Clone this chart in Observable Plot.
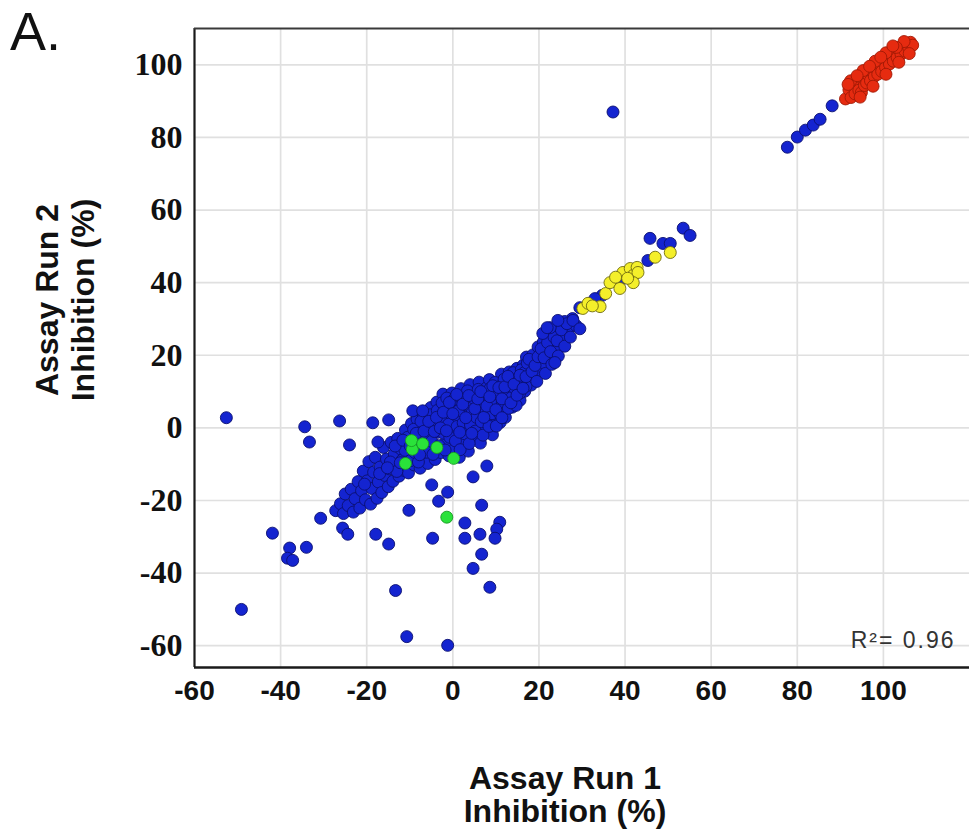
<!DOCTYPE html>
<html>
<head>
<meta charset="utf-8">
<script src="https://cdn.jsdelivr.net/npm/d3@7"></script>
<script src="https://cdn.jsdelivr.net/npm/@observablehq/plot@0.6"></script>
<style>
  html, body { margin: 0; padding: 0; background: #fff; }
  #chart { position: relative; width: 969px; height: 836px; }
</style>
</head>
<body>
<div id="chart"></div>
<script>
// ---- data ----
const xTicks = [-60, -40, -20, 0, 20, 40, 60, 80, 100];
const yTicks = [-60, -40, -20, 0, 20, 40, 60, 80, 100];
const xDomain = [-60, 120];
const yDomain = [-66, 110];

// blue: isolated points
const blueOutliers = [
  [-52.6,2.8],[-34.4,0.3],[-33.3,-3.9],[-26.3,1.9],[-24,-4.7],[-18.6,1.4],[-14.9,2.2],[-17.4,-3.9],
  [-41.9,-29],[-37.9,-33.1],[-38.4,-35.9],[-37.2,-36.5],[-34,-32.9],[-30.7,-24.9],[-25.6,-27.6],
  [-24.4,-29.3],[-17.9,-29.3],[-14.9,-32],[-13.3,-44.8],[-49.1,-50],[-10.7,-57.5],[-10.2,-22.7],
  [7.9,-10.5],[4.7,-13.5],[-4.9,-15.7],[-1.2,-17.7],[-3.3,-20.2],[6.7,-21.3],[2.8,-26.2],[10.9,-26],
  [10.2,-27.9],[6.3,-29.3],[2.8,-30.4],[9.8,-30.4],[-4.7,-30.4],[6.7,-34.8],[4.7,-38.7],[8.6,-43.9],
  [-1.2,-59.9],[37.2,87],[77.7,77.3],[80,80.1],[81.9,82],[83.7,83.4],[85.3,85],[88.1,88.7],
  [45.8,52.2],[48.8,50.8],[50.5,50.8],[53.5,55],[55.1,53],[45.3,46.1],[39.5,41.2],[34.7,36.5],
  [33,35.6],[29.5,33.1],[22.6,27.6],[26.5,28.7],[27.9,29.6],[29.5,27.3],[20.9,26],[23.7,18],
  [21.9,27.6],[24.4,29.6],[-9.3,4.7],[-7,4.7],[11.4,2.8]
];
// blue: dense diagonal band
const blueBand = [
  [-27.2,-22.8],[-26.1,-20.9],[-25.4,-23.6],[-25.0,-18.2],[-24.3,-21.4],[-23.6,-16.9],[-23.1,-23.2],[-22.7,-19.5],
  [-22.0,-14.8],[-21.6,-22.1],[-21.2,-17.3],[-20.8,-11.9],[-20.3,-19.8],[-19.9,-14.6],[-19.5,-9.3],[-19.1,-21.0],
  [-18.8,-16.7],[-18.4,-12.2],[-18.0,-8.1],[-17.6,-19.4],[-17.3,-14.9],[-16.9,-10.8],[-16.5,-17.8],[-16.1,-5.4],
  [-15.8,-13.1],[-15.4,-8.6],[-15.0,-16.2],[-14.7,-11.3],[-14.3,-4.0],[-13.9,-14.7],[-13.6,-7.2],[-13.2,-10.4],
  [-12.8,-2.9],[-12.5,-13.3],[-12.1,-5.8],[-11.8,-8.9],[-11.4,-11.7],[-11.0,-0.6],[-10.7,-4.3],[-10.3,-12.4],
  [-10.0,-7.6],[-9.6,1.2],[-9.3,-2.1],[-9.0,-10.2],[-8.6,-5.3],[-8.3,2.4],[-7.9,-0.8],[-7.6,-11.1],[-7.2,-3.6],
  [-6.9,3.9],[-6.5,-7.9],[-6.2,0.7],[-5.8,-9.8],[-5.5,-2.4],[-5.1,5.6],[-4.8,-5.9],[-4.4,2.3],[-4.1,-8.7],
  [-3.7,7.1],[-3.4,-1.2],[-3.0,4.4],[-2.7,-6.8],[-2.3,9.3],[-2.0,1.6],[-1.6,-3.9],[-1.3,6.2],[-0.9,-7.7],
  [-0.6,3.1],[-0.2,9.6],[0.1,-1.0],[0.5,-5.7],[0.8,6.8],[1.2,2.0],[1.5,-8.1],[1.9,10.8],[2.2,-3.3],[2.6,4.5],
  [2.9,8.7],[3.3,-0.2],[3.6,-6.4],[4.0,11.9],[4.3,2.7],[4.7,6.1],[5.0,-2.6],[5.4,9.4],[5.7,0.9],[6.1,12.6],
  [6.4,-4.2],[6.8,4.0],[7.1,7.8],[7.5,-0.3],[7.8,11.0],[8.2,2.1],[8.5,13.3],[8.9,5.6],[9.2,-1.9],[9.6,9.0],
  [9.9,3.3],[10.3,12.2],[10.6,6.6],[11.0,1.5],[11.3,14.8],[11.7,9.7],[12.0,4.6],[12.4,12.9],[12.7,7.3],
  [13.1,15.4],[13.4,10.8],[13.8,5.7],[14.2,13.6],[14.5,8.9],[14.9,16.4],[15.3,11.4],[15.6,7.6],[16.0,14.2],
  [16.4,17.3],[16.7,10.1],[17.1,19.5],[17.5,13.0],[17.8,16.3],[18.2,11.8],[18.6,20.1],[19.0,14.9],[19.4,18.0],
  [19.8,22.3],[20.2,15.8],[20.6,19.9],[21.0,23.6],[21.4,17.6],[21.9,21.4],[22.3,25.2],[22.8,19.7],[23.3,23.3],
  [23.8,26.8],[24.4,21.8],[25.0,25.4],[25.6,28.1],[26.3,24.8],[27.0,27.6],[27.8,30.1],[28.6,28.2],
  [-14.5,-9.4],[-13.0,-12.0],[-12.2,-9.6],[-11.1,-6.2],[-10.5,-2.6],[-9.8,-9.0],[-9.1,-0.4],[-8.8,-6.8],
  [-8.0,-9.4],[-7.4,1.8],[-7.0,-5.6],[-6.3,-2.0],[-6.0,-6.7],[-5.3,3.6],[-4.9,-3.7],[-4.6,-7.3],[-4.0,0.3],
  [-3.6,4.8],[-3.2,-4.9],[-2.8,2.4],[-2.5,6.9],[-2.1,-1.5],[-1.8,-6.1],[-1.4,8.2],[-1.0,1.0],[-0.7,-2.6],
  [-0.3,5.0],[0.3,7.9],[0.6,-3.6],[1.0,0.4],[1.3,4.7],[1.7,-6.0],[2.0,8.1],[2.4,1.4],[2.7,-1.6],[3.1,6.3],
  [3.4,10.2],[3.8,-4.3],[4.1,0.8],[4.5,4.2],[4.8,8.2],[5.2,-0.9],[5.5,2.9],[5.9,10.6],[6.2,6.5],[6.6,1.7],
  [7.0,-2.0],[7.3,9.6],[7.7,4.9],[8.0,7.4],[8.4,0.4],[8.7,10.9],[9.1,3.9],[9.4,6.9],[9.8,12.5],[10.1,0.5],
  [10.5,9.3],[10.8,4.0],[11.2,11.6],[11.5,7.1],[11.9,13.4],[12.2,2.9],[12.6,10.4],[12.9,5.4],[13.3,12.5],
  [13.6,8.3],[14.0,15.2],[14.4,10.9],[14.7,6.2],[15.1,13.6],[15.5,9.5],[15.9,16.0],[16.2,12.4],[16.6,15.2],
  [17.0,11.5],[17.3,17.8],
  [-20.5,-15.5],[-17.0,-12.6],[-15.2,-11.0],[-13.4,-5.0],[-11.6,-3.4],[-9.9,-5.0],[-8.5,-1.5],[-7.7,-7.4],
  [-6.7,-0.9],[-5.6,1.8],[-4.3,-1.0],[-3.8,2.9],[-2.9,0.0],[-2.2,4.3],[-1.5,-0.8],[-0.8,7.0],[0.0,3.9],
  [0.9,9.2],[1.6,-1.2],[2.3,6.5],[3.0,2.8],[3.7,8.9],[4.4,-1.5],[5.1,5.3],[5.8,8.0],[6.5,10.0],[7.2,2.9],
  [7.9,6.0],[8.6,8.6],[9.3,11.6],[10.0,5.0],[10.7,11.1],[11.4,8.0],[12.1,11.3],[12.8,14.2],[13.5,6.9],
  [14.2,12.0],[14.9,9.0],[15.6,14.5],[16.3,10.9],[17.0,14.1],[17.7,18.9],[18.4,15.5],[19.1,17.2],[19.8,19.6],
  [20.5,21.8],[21.2,19.3],[22.0,23.5],[22.7,21.0],[23.5,25.0],[24.2,24.0],[25.2,27.0],[26.0,29.3],
  [19.5,12.8],[21.5,15.0],[23.0,17.5],[24.5,19.8],[26.0,22.5],[27.3,25.0]
];
const yellowPts = [
  [30.2,32.9],[31.4,34.3],[34.2,33.4],[35.5,37.0],[36.5,40.0],[38.8,38.4],[39.5,42.8],[41.2,43.9],
  [41.9,42.0],[42.8,44.2],[43.0,42.8],[41.9,40.0],[47.0,47.0],[50.5,48.3],[37.8,41.5],[32.4,33.6],[40.6,41.2]
];
const redPts = [
  [91.2,90.6],[92.0,93.1],[92.5,91.0],[93.1,94.2],[93.4,92.0],[94.0,95.3],[94.3,93.0],[94.9,92.4],
  [95.2,96.1],[95.6,94.3],[96.1,95.0],[96.5,97.2],[97.0,95.6],[97.4,98.1],[97.9,96.8],[98.3,99.0],
  [98.7,97.4],[99.2,100.1],[99.6,98.2],[100.0,100.9],[100.5,99.3],[100.9,101.8],[101.4,100.2],
  [101.8,102.7],[102.3,101.0],[102.7,103.5],[103.2,102.0],[103.6,104.3],[104.1,102.9],[104.5,105.0],
  [105.0,103.8],[105.4,105.7],[105.9,104.6],[106.3,106.2],[106.8,105.4],[104.8,106.4],[103.0,104.8],
  [92.4,95.6],[95.3,98.4],[98.1,101.0],[100.6,103.3],[102.2,105.2],[94.6,91.1],[97.6,94.1],[100.6,97.4],
  [103.6,100.7],[106.0,103.1],[91.8,94.6],[93.9,97.0],[96.8,99.6],[99.4,102.1]
];
const greenPts = [
  [-11.0,-9.8],[-9.4,-5.9],[-9.6,-3.5],[-7.0,-4.4],[-3.7,-5.4],[0.2,-8.4],[-1.4,-24.6]
];
const rSquaredLabel = "R²= 0.96";

// ---- chart ----
const dotR = 6;
const chart = Plot.plot({
  width: 969,
  height: 836,
  marginLeft: 194,
  marginTop: 28,
  marginRight: 0,
  marginBottom: 169,
  style: { background: "#fff" },
  x: { domain: xDomain, ticks: xTicks, tickSize: 0, tickPadding: 13, label: null, tickFormat: d => String(d) },
  y: { domain: yDomain, ticks: yTicks, tickSize: 0, tickPadding: 12, label: null, tickFormat: d => String(d) },
  marks: [
    Plot.ruleX(xTicks.slice(1), { stroke: "#e0e0e0", strokeWidth: 1.7 }),
    Plot.ruleY(yTicks, { stroke: "#e0e0e0", strokeWidth: 1.7 }),
    Plot.dot(blueBand, { x: d => d[0], y: d => d[1], r: dotR, fill: "#1424d0", stroke: "#0b1070", strokeWidth: 0.9 }),
    Plot.dot(blueOutliers, { x: d => d[0], y: d => d[1], r: dotR, fill: "#1424d0", stroke: "#0b1070", strokeWidth: 0.9 }),
    Plot.dot(yellowPts, { x: d => d[0], y: d => d[1], r: dotR, fill: "#f4ef2a", stroke: "#6e6a10", strokeWidth: 0.9 }),
    Plot.dot(redPts, { x: d => d[0], y: d => d[1], r: dotR, fill: "#e62b10", stroke: "#a01a06", strokeWidth: 0.9 }),
    Plot.dot(greenPts, { x: d => d[0], y: d => d[1], r: dotR, fill: "#2ae23a", stroke: "#179a22", strokeWidth: 0.9 }),
    Plot.ruleX([xDomain[0]], { stroke: "#1a1a1a", strokeWidth: 2.2 }),
    Plot.ruleY([yDomain[1]], { stroke: "#3a3a3a", strokeWidth: 2 }),
    Plot.ruleY([yDomain[0]], { stroke: "#1a1a1a", strokeWidth: 2.6 }),
    Plot.text([rSquaredLabel], { frameAnchor: "bottom-right", dx: -14, dy: -20, text: d => d,
      fontSize: 23, fill: "#333", textAnchor: "end", fontFamily: "Liberation Sans, Arial, sans-serif" })
  ]
});
document.getElementById("chart").appendChild(chart);

const svg = d3.select(chart);
svg.selectAll('[aria-label^="y-axis"] text')
  .style("font-family", "'Liberation Serif', 'Times New Roman', serif")
  .style("font-weight", "bold")
  .style("font-size", "32px")
  .style("fill", "#111");
svg.selectAll('[aria-label^="x-axis"] text')
  .style("font-family", "'Liberation Sans', Arial, sans-serif")
  .style("font-weight", "bold")
  .style("font-size", "28px")
  .style("fill", "#111");
svg.selectAll('[aria-label="text"] text').style("letter-spacing", "2px");

const annot = svg.append("g").attr("font-family", "'Liberation Sans', Arial, sans-serif").attr("fill", "#111");
annot.append("text").attr("x", 10).attr("y", 50).attr("font-size", 54).attr("text-anchor", "start").text("A.");
const xt = annot.append("g").attr("font-size", 32).attr("font-weight", "bold").attr("text-anchor", "middle");
xt.append("text").attr("x", 565).attr("y", 789).text("Assay Run 1");
xt.append("text").attr("x", 565).attr("y", 822).text("Inhibition (%)");
const yt = annot.append("g").attr("font-size", 32).attr("font-weight", "bold").attr("text-anchor", "middle");
yt.append("text").attr("transform", "translate(58,300) rotate(-90)").text("Assay Run 2");
yt.append("text").attr("transform", "translate(94,300) rotate(-90)").text("Inhibition (%)");
</script>
</body>
</html>
